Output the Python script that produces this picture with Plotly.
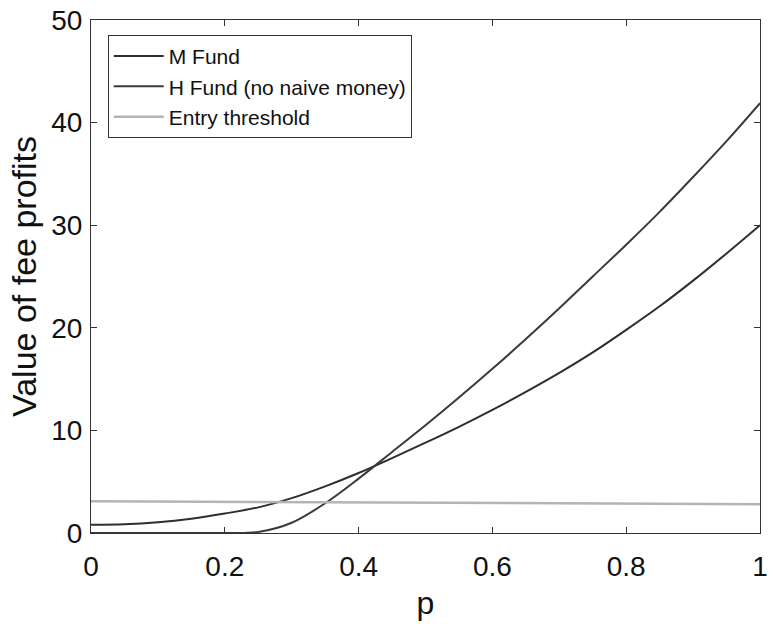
import plotly.graph_objects as go

# Probability grid and fee-profit values for each fund
p = [0.0, 0.05, 0.1, 0.15, 0.2, 0.25, 0.3, 0.35, 0.4, 0.45, 0.5,
     0.55, 0.6, 0.65, 0.7, 0.75, 0.8, 0.85, 0.9, 0.95, 1.0]
m_fund = [0.8, 0.85, 1.05, 1.4, 1.9, 2.5, 3.4, 4.55, 5.85, 7.3, 8.8,
          10.35, 12.0, 13.75, 15.6, 17.6, 19.8, 22.1, 24.6, 27.25, 30.0]
h_fund = [0.0, 0.0, 0.0, 0.0, 0.0, 0.1, 1.0, 2.9, 5.3, 7.9, 10.5,
          13.2, 16.0, 18.9, 21.9, 25.0, 28.1, 31.3, 34.7, 38.2, 41.9]
threshold_p = [0.0, 0.5, 1.0]
threshold = [3.1, 2.95, 2.8]

x_ticks = [0, 0.2, 0.4, 0.6, 0.8, 1]
x_tick_text = ["0", "0.2", "0.4", "0.6", "0.8", "1"]
y_ticks = [0, 10, 20, 30, 40, 50]

FONT = "Liberation Sans, Arial, sans-serif"

fig = go.Figure()
fig.add_trace(go.Scatter(x=p, y=m_fund, mode="lines", name="M Fund",
                         line=dict(color="#2e2e2e", width=2, shape="spline")))
fig.add_trace(go.Scatter(x=p, y=h_fund, mode="lines", name="H Fund (no naive money)",
                         line=dict(color="#3a3a3a", width=2, shape="spline")))
fig.add_trace(go.Scatter(x=threshold_p, y=threshold, mode="lines", name="Entry threshold",
                         line=dict(color="#b4b4b4", width=2.5)))

axis_common = dict(
    showline=True, linecolor="#333", linewidth=1.2, mirror="ticks",
    ticks="inside", ticklen=6, tickcolor="#333", showgrid=False, zeroline=False,
    tickfont=dict(family=FONT, size=28, color="#111"),
    ticklabeloverflow="allow",
)

fig.update_layout(
    width=773, height=624,
    margin=dict(l=91, r=5, t=20, b=91),
    paper_bgcolor="white", plot_bgcolor="white",
    font=dict(family=FONT, color="#111"),
    xaxis=dict(range=[0, 1], tickvals=x_ticks, ticktext=x_tick_text,
               title=dict(text="p", font=dict(family=FONT, size=32), standoff=10),
               ticklabelstandoff=8, **axis_common),
    yaxis=dict(range=[0, 50], tickvals=y_ticks,
               title=dict(text="Value of fee profits", font=dict(family=FONT, size=34), standoff=4),
               ticklabelstandoff=2, **axis_common),
    legend=dict(x=0.025, y=0.971, xanchor="left", yanchor="top",
                bgcolor="white", bordercolor="#333", borderwidth=1,
                font=dict(family=FONT, size=21, color="#111"),
                tracegroupgap=0, itemwidth=50),
    showlegend=True,
)

fig.write_html("out.html")
